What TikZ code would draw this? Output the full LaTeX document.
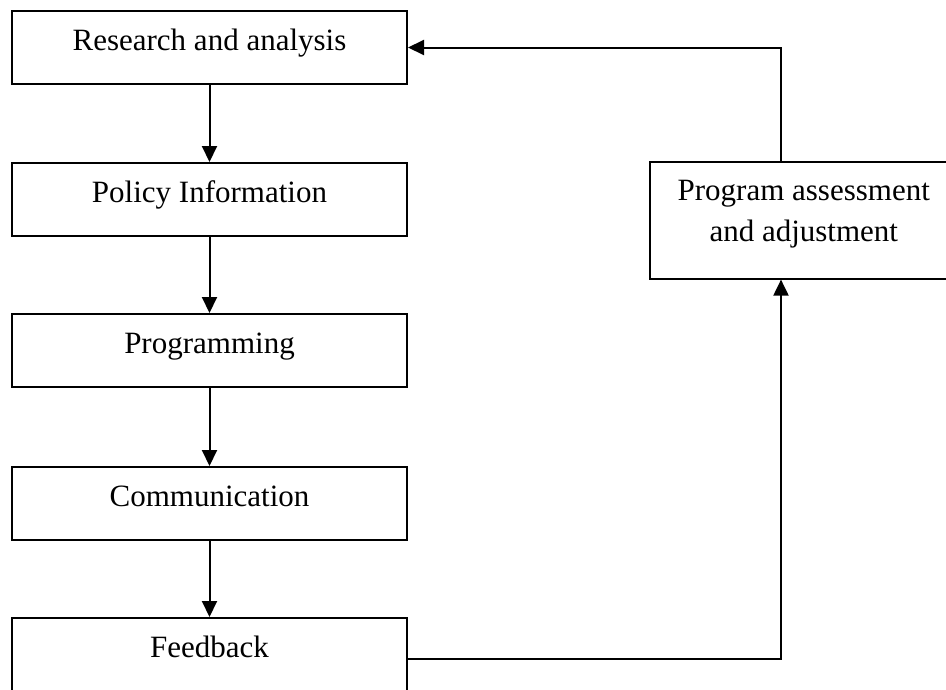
\documentclass[tikz,border=0pt]{standalone}
\usepackage{fontspec}
\setmainfont{Liberation Serif}
\usepackage{tikz}
\usetikzlibrary{arrows.meta}
\newcommand\stagefont{\fontsize{31}{41}\selectfont}

\tikzset{
stage/.style={draw, line width=2pt, anchor=north west, inner sep=0pt,
  minimum width=395pt, text height=39pt, text depth=34pt, font=\stagefont},
flow/.style={line width=2pt, -{Triangle[length=16pt,width=15pt]}}
}

\begin{document}
\begin{tikzpicture}[x=1pt,y=-1pt]
\useasboundingbox (0,0) rectangle (946,689);

\node[stage] (res) at (11,10) {Research and analysis};
\node[stage] (pol) at (11,162) {Policy Information};
\node[stage] (prg) at (11,313) {Programming};
\node[stage] (com) at (11,466) {Communication};
\node[stage, text depth=43pt] (fbk) at (11,617) {Feedback};
\node[stage, line width=1.6pt, minimum width=308pt, text depth=78pt] (pa) at (649,161)
  {\begin{tabular}[t]{c}Program assessment\\and adjustment\end{tabular}};

\draw[flow] (res) -- (pol);
\draw[flow] (pol) -- (prg);
\draw[flow] (prg) -- (com);
\draw[flow] (com) -- (fbk);

\draw[flow] (fbk.east) -| ([xshift=132pt]pa.south west);
\draw[flow] ([xshift=132pt]pa.north west) |- (res.east);

\end{tikzpicture}
\end{document}
